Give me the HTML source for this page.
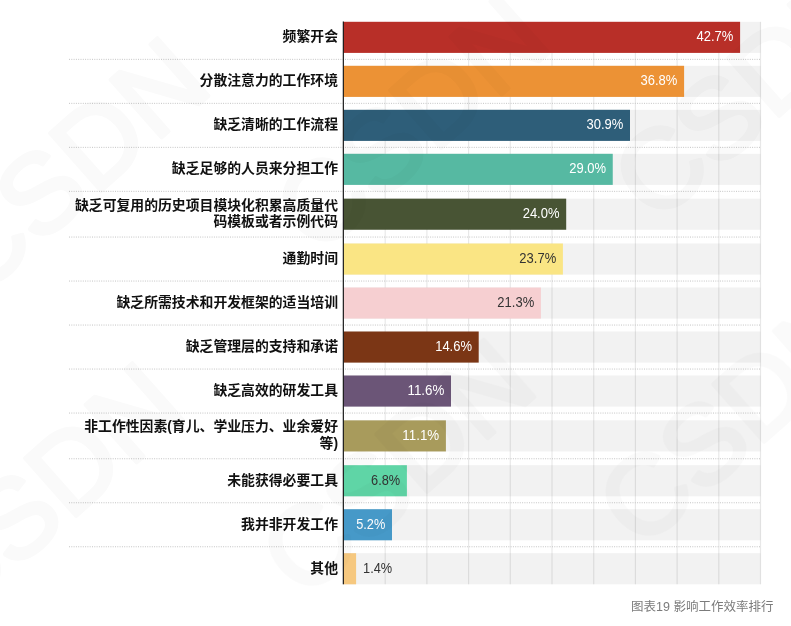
<!DOCTYPE html>
<html lang="zh"><head><meta charset="utf-8"><title>图表19 影响工作效率排行</title>
<style>
html,body{margin:0;padding:0;background:#fff;}
body{width:791px;height:626px;overflow:hidden;position:relative;font-family:"Liberation Sans","Noto Sans CJK SC",sans-serif;}
svg{position:absolute;left:0;top:0;display:block}
.lab{font-family:"Liberation Sans","Noto Sans CJK SC",sans-serif;font-weight:bold;font-size:13.85px;fill:#111;text-anchor:end}
.val{font-family:"Liberation Sans",sans-serif;font-size:13.75px;}
.cap{font-family:"Liberation Sans","Noto Sans CJK SC",sans-serif;font-size:12.5px;fill:#7b7b7b;text-anchor:end}
</style></head><body>
<svg width="791" height="626" viewBox="0 0 791 626">

<rect x="343.50" y="21.80" width="417.00" height="31.1" fill="#f2f2f2"/>
<rect x="343.50" y="65.80" width="417.00" height="31.1" fill="#f2f2f2"/>
<rect x="343.50" y="109.80" width="417.00" height="31.1" fill="#f2f2f2"/>
<rect x="343.50" y="153.80" width="417.00" height="31.1" fill="#f2f2f2"/>
<rect x="343.50" y="198.65" width="417.00" height="31.1" fill="#f2f2f2"/>
<rect x="343.50" y="243.50" width="417.00" height="31.1" fill="#f2f2f2"/>
<rect x="343.50" y="287.50" width="417.00" height="31.1" fill="#f2f2f2"/>
<rect x="343.50" y="331.50" width="417.00" height="31.1" fill="#f2f2f2"/>
<rect x="343.50" y="375.50" width="417.00" height="31.1" fill="#f2f2f2"/>
<rect x="343.50" y="420.35" width="417.00" height="31.1" fill="#f2f2f2"/>
<rect x="343.50" y="465.20" width="417.00" height="31.1" fill="#f2f2f2"/>
<rect x="343.50" y="509.20" width="417.00" height="31.1" fill="#f2f2f2"/>
<rect x="343.50" y="553.20" width="417.00" height="31.1" fill="#f2f2f2"/>
<rect x="384.60" y="21.8" width="1.2" height="562.50" fill="#000" fill-opacity="0.09"/>
<rect x="426.30" y="21.8" width="1.2" height="562.50" fill="#000" fill-opacity="0.09"/>
<rect x="468.00" y="21.8" width="1.2" height="562.50" fill="#000" fill-opacity="0.09"/>
<rect x="509.70" y="21.8" width="1.2" height="562.50" fill="#000" fill-opacity="0.09"/>
<rect x="551.40" y="21.8" width="1.2" height="562.50" fill="#000" fill-opacity="0.09"/>
<rect x="593.10" y="21.8" width="1.2" height="562.50" fill="#000" fill-opacity="0.09"/>
<rect x="634.80" y="21.8" width="1.2" height="562.50" fill="#000" fill-opacity="0.09"/>
<rect x="676.50" y="21.8" width="1.2" height="562.50" fill="#000" fill-opacity="0.09"/>
<rect x="718.20" y="21.8" width="1.2" height="562.50" fill="#000" fill-opacity="0.09"/>
<rect x="759.90" y="21.8" width="1.2" height="562.50" fill="#000" fill-opacity="0.09"/>
<line x1="69" x2="760.5" y1="59.35" y2="59.35" stroke="#c4c4c4" stroke-width="1" stroke-dasharray="1 1.3"/>
<line x1="69" x2="760.5" y1="103.35" y2="103.35" stroke="#c4c4c4" stroke-width="1" stroke-dasharray="1 1.3"/>
<line x1="69" x2="760.5" y1="147.35" y2="147.35" stroke="#c4c4c4" stroke-width="1" stroke-dasharray="1 1.3"/>
<line x1="69" x2="760.5" y1="191.35" y2="191.35" stroke="#c4c4c4" stroke-width="1" stroke-dasharray="1 1.3"/>
<line x1="69" x2="760.5" y1="237.05" y2="237.05" stroke="#c4c4c4" stroke-width="1" stroke-dasharray="1 1.3"/>
<line x1="69" x2="760.5" y1="281.05" y2="281.05" stroke="#c4c4c4" stroke-width="1" stroke-dasharray="1 1.3"/>
<line x1="69" x2="760.5" y1="325.05" y2="325.05" stroke="#c4c4c4" stroke-width="1" stroke-dasharray="1 1.3"/>
<line x1="69" x2="760.5" y1="369.05" y2="369.05" stroke="#c4c4c4" stroke-width="1" stroke-dasharray="1 1.3"/>
<line x1="69" x2="760.5" y1="413.05" y2="413.05" stroke="#c4c4c4" stroke-width="1" stroke-dasharray="1 1.3"/>
<line x1="69" x2="760.5" y1="458.75" y2="458.75" stroke="#c4c4c4" stroke-width="1" stroke-dasharray="1 1.3"/>
<line x1="69" x2="760.5" y1="502.75" y2="502.75" stroke="#c4c4c4" stroke-width="1" stroke-dasharray="1 1.3"/>
<line x1="69" x2="760.5" y1="546.75" y2="546.75" stroke="#c4c4c4" stroke-width="1" stroke-dasharray="1 1.3"/>
<rect x="343.50" y="21.80" width="396.60" height="31.1" fill="#b82f28"/>
<text class="val" x="733.40" y="41.35" text-anchor="end" textLength="36.84" lengthAdjust="spacingAndGlyphs" fill="#fff">42.7%</text>
<text class="lab" x="338" y="41.35">频繁开会</text>
<rect x="343.50" y="65.80" width="340.60" height="31.1" fill="#ec9235"/>
<text class="val" x="677.40" y="85.35" text-anchor="end" textLength="36.84" lengthAdjust="spacingAndGlyphs" fill="#fff">36.8%</text>
<text class="lab" x="338" y="85.35">分散注意力的工作环境</text>
<rect x="343.50" y="109.80" width="286.50" height="31.1" fill="#2e5e79"/>
<text class="val" x="623.30" y="129.35" text-anchor="end" textLength="36.84" lengthAdjust="spacingAndGlyphs" fill="#fff">30.9%</text>
<text class="lab" x="338" y="129.35">缺乏清晰的工作流程</text>
<rect x="343.50" y="153.80" width="269.25" height="31.1" fill="#56b9a2"/>
<text class="val" x="606.05" y="173.35" text-anchor="end" textLength="36.84" lengthAdjust="spacingAndGlyphs" fill="#fff">29.0%</text>
<text class="lab" x="338" y="173.35">缺乏足够的人员来分担工作</text>
<rect x="343.50" y="198.65" width="222.70" height="31.1" fill="#485434"/>
<text class="val" x="559.50" y="218.20" text-anchor="end" textLength="36.84" lengthAdjust="spacingAndGlyphs" fill="#fff">24.0%</text>
<text class="lab" x="338" y="209.70">缺乏可复用的历史项目模块化积累高质量代</text>
<text class="lab" x="338" y="225.80">码模板或者示例代码</text>
<rect x="343.50" y="243.50" width="219.40" height="31.1" fill="#fae584"/>
<text class="val" x="556.20" y="263.05" text-anchor="end" textLength="36.84" lengthAdjust="spacingAndGlyphs" fill="#333">23.7%</text>
<text class="lab" x="338" y="263.05">通勤时间</text>
<rect x="343.50" y="287.50" width="197.40" height="31.1" fill="#f6cfd1"/>
<text class="val" x="534.20" y="307.05" text-anchor="end" textLength="36.84" lengthAdjust="spacingAndGlyphs" fill="#333">21.3%</text>
<text class="lab" x="338" y="307.05">缺乏所需技术和开发框架的适当培训</text>
<rect x="343.50" y="331.50" width="135.20" height="31.1" fill="#7b3615"/>
<text class="val" x="472.00" y="351.05" text-anchor="end" textLength="36.84" lengthAdjust="spacingAndGlyphs" fill="#fff">14.6%</text>
<text class="lab" x="338" y="351.05">缺乏管理层的支持和承诺</text>
<rect x="343.50" y="375.50" width="107.50" height="31.1" fill="#6b5577"/>
<text class="val" x="444.30" y="395.05" text-anchor="end" textLength="36.84" lengthAdjust="spacingAndGlyphs" fill="#fff">11.6%</text>
<text class="lab" x="338" y="395.05">缺乏高效的研发工具</text>
<rect x="343.50" y="420.35" width="102.40" height="31.1" fill="#a89b5c"/>
<text class="val" x="439.20" y="439.90" text-anchor="end" textLength="36.84" lengthAdjust="spacingAndGlyphs" fill="#fff">11.1%</text>
<text class="lab" x="338" y="431.40">非工作性因素(育儿、学业压力、业余爱好</text>
<text class="lab" x="338" y="447.50">等)</text>
<rect x="343.50" y="465.20" width="63.40" height="31.1" fill="#5fd5a6"/>
<text class="val" x="400.20" y="484.75" text-anchor="end" textLength="29.12" lengthAdjust="spacingAndGlyphs" fill="#333">6.8%</text>
<text class="lab" x="338" y="484.75">未能获得必要工具</text>
<rect x="343.50" y="509.20" width="48.50" height="31.1" fill="#4699c8"/>
<text class="val" x="385.30" y="528.75" text-anchor="end" textLength="29.12" lengthAdjust="spacingAndGlyphs" fill="#fff">5.2%</text>
<text class="lab" x="338" y="528.75">我并非开发工作</text>
<rect x="343.50" y="553.20" width="12.60" height="31.1" fill="#f6c87f"/>
<text class="val" x="363.10" y="572.75" text-anchor="start" textLength="29.12" lengthAdjust="spacingAndGlyphs" fill="#333">1.4%</text>
<text class="lab" x="338" y="572.75">其他</text>
<rect x="342.75" y="21.5" width="1.15" height="562.80" fill="#111"/>
<text class="cap" x="773.5" y="610.6">图表19 影响工作效率排行</text>
<g opacity="0.022" fill="#000" stroke="#000" stroke-width="4" stroke-linejoin="round" stroke-linecap="round" style="font-family:'Liberation Sans',sans-serif;font-weight:normal;font-size:112px;letter-spacing:0px" text-anchor="middle">
<text transform="translate(70 165) rotate(-41.5)" x="0" y="40">CSDN</text>
<text transform="translate(410 122) rotate(-41.5)" x="0" y="40">CSDN</text>
<text transform="translate(748 90) rotate(-41.5)" x="0" y="40">CSDN</text>
<text transform="translate(45 490) rotate(-41.5)" x="0" y="40">CSDN</text>
<text transform="translate(396 466) rotate(-41.5)" x="0" y="40">CSDN</text>
<text transform="translate(733 416) rotate(-41.5)" x="0" y="40">CSDN</text>
</g>
</svg>
</body></html>
